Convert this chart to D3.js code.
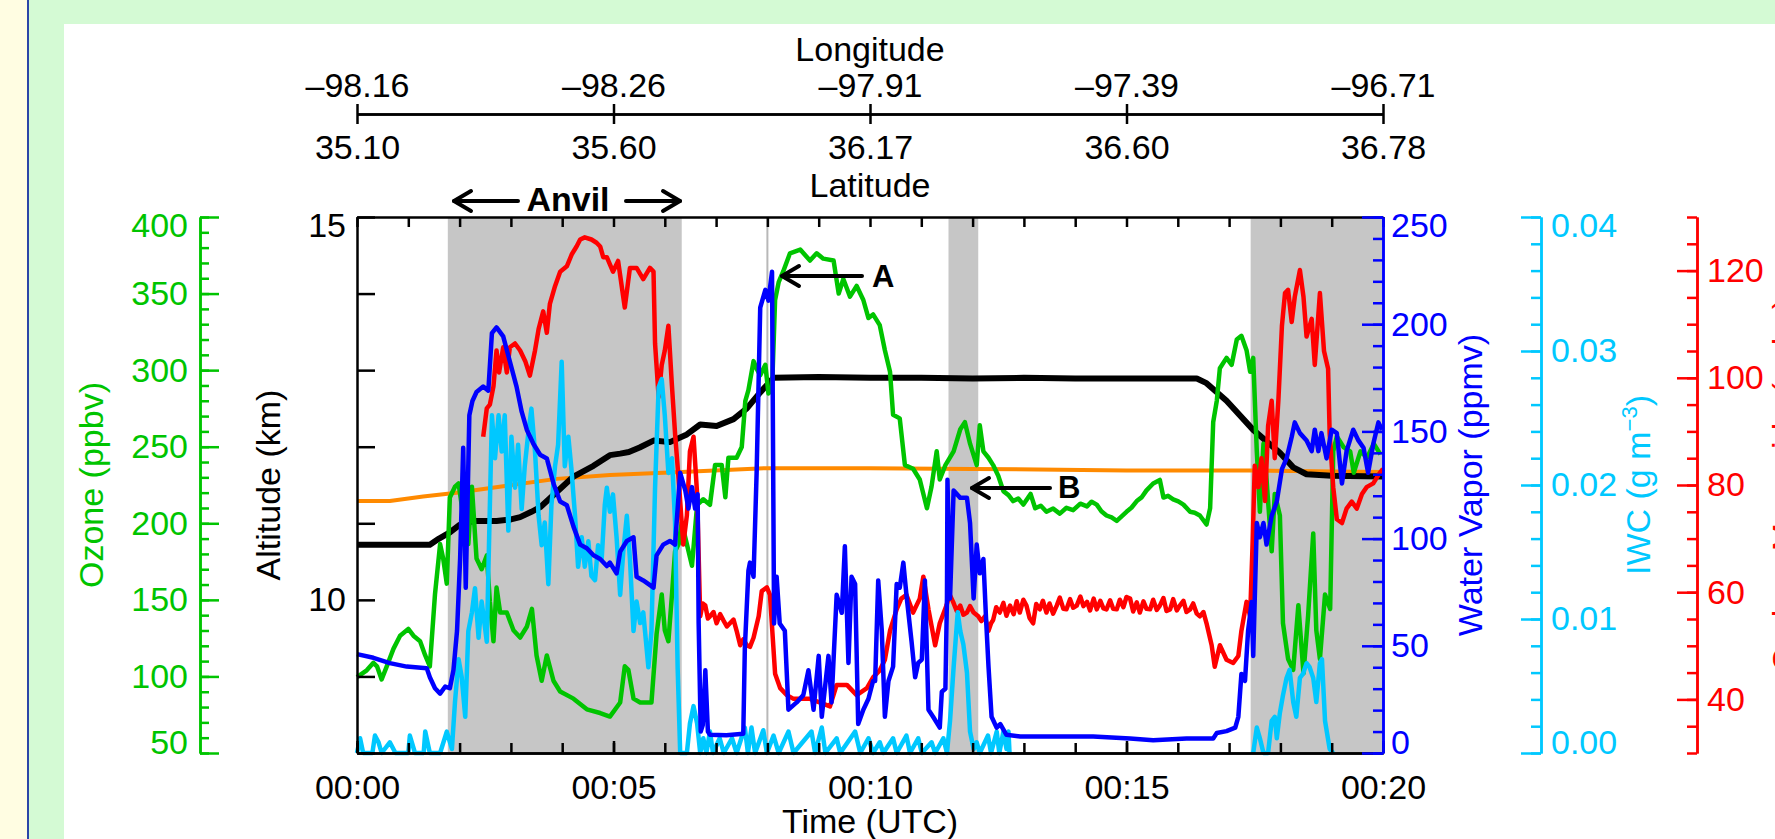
<!DOCTYPE html>
<html><head><meta charset="utf-8">
<script src="https://cdn.jsdelivr.net/npm/d3@7"></script>
<style>body{margin:0;background:#fff}svg{display:block}</style>
</head><body><svg id="c" width="1775" height="839"></svg>
<script>
// ---------------- data (time in minutes after 00:00 UTC) ----------------
const timeLabels = ["00:00","00:05","00:10","00:15","00:20"];
const timeLabelValues = [0,5,10,15,20];
const lonLabels = ["–98.16","–98.26","–97.91","–97.39","–96.71"];
const latLabels = ["35.10","35.60","36.17","36.60","36.78"];
const shadedIntervals = [[1.77,6.33],[11.53,12.11],[17.42,20]];
const markerTimes = [8.0];

const altitude = [[0,10.72],[0.6,10.72],[1.2,10.72],[1.42,10.72],[1.6,10.8],[1.81,10.88],[2.0,10.98],[2.27,11.03],[2.72,11.03],[3.0,11.05],[3.18,11.08],[3.4,11.15],[3.57,11.21],[3.83,11.37],[4.22,11.61],[4.61,11.75],[4.93,11.89],[5.13,11.91],[5.3,11.93],[5.51,11.99],[5.78,12.08],[6.10,12.06],[6.43,12.16],[6.69,12.29],[7.01,12.27],[7.34,12.36],[7.60,12.50],[7.86,12.71],[8.12,12.90],[9,12.91],[10,12.9],[11,12.9],[12,12.89],[13,12.9],[14,12.89],[15,12.89],[16.37,12.89],[16.56,12.83],[16.95,12.6],[17.47,12.22],[17.99,11.92],[18.25,11.73],[18.51,11.64],[19,11.62],[20,11.61]];

const orangeLevel = [[0,11.29],[0.64,11.29],[1.29,11.35],[1.94,11.40],[2.92,11.49],[3.89,11.58],[4.93,11.63],[6.33,11.67],[7.98,11.72],[10,11.72],[12,11.71],[15,11.69],[17.5,11.69],[20,11.67]];

const ozone = [[0,99.6],[0.19,104],[0.32,108.9],[0.39,106.6],[0.48,98],[0.58,106.6],[0.71,118],[0.84,126.6],[1.00,131],[1.10,126.6],[1.23,123],[1.33,113.7],[1.42,106.6],[1.52,153.5],[1.62,186.4],[1.68,177],[1.75,160.6],[1.81,216.8],[1.91,223.9],[1.98,226],[2.07,205],[2.17,186.4],[2.24,223.9],[2.33,177],[2.43,170],[2.53,179],[2.59,148.8],[2.66,122.9],[2.72,158],[2.79,141.8],[2.92,141.8],[3.05,130.1],[3.18,125.4],[3.31,132.4],[3.41,144.1],[3.50,113.7],[3.60,97.2],[3.70,113.7],[3.83,97.2],[3.96,90.2],[4.22,85.5],[4.48,78.5],[4.74,76.1],[4.93,73.8],[5.13,83],[5.22,106.6],[5.29,104.3],[5.39,85.5],[5.52,83],[5.74,83],[5.84,127.7],[5.94,153.5],[6.00,130.1],[6.07,123],[6.14,153.5],[6.20,181.7],[6.27,186.4],[6.33,200.4],[6.43,186.4],[6.53,172.3],[6.63,212],[6.75,215.7],[6.88,212],[6.98,238],[7.11,238],[7.18,217],[7.24,242.8],[7.40,242.8],[7.50,249.8],[7.57,280],[7.63,287],[7.73,305.9],[7.79,301],[7.86,296.6],[7.96,303.5],[8.02,284.8],[8.09,287],[8.15,345.8],[8.22,357.5],[8.31,364.6],[8.44,376.3],[8.64,378.7],[8.83,371.6],[8.96,376.3],[9.09,372.8],[9.29,371.6],[9.39,350],[9.48,359.5],[9.61,348],[9.74,355],[9.87,345.8],[9.97,334],[10.06,336.4],[10.19,329.4],[10.29,313],[10.39,299],[10.45,270.8],[10.58,268.5],[10.68,238],[10.84,235.6],[10.97,228.6],[11.11,209.8],[11.20,224],[11.30,247],[11.36,228.6],[11.47,238],[11.63,247],[11.76,261.4],[11.85,266],[11.95,252],[12.08,238],[12.14,264],[12.21,247],[12.31,242.8],[12.40,238],[12.50,231],[12.60,221],[12.70,218.4],[12.79,214.5],[12.89,216.2],[12.99,212.2],[13.13,219.2],[13.22,209.8],[13.33,211.5],[13.44,207.5],[13.57,209.6],[13.70,206.3],[13.83,210.1],[13.96,208.6],[14.10,212.8],[14.23,211],[14.32,214.1],[14.42,212.2],[14.51,207.9],[14.61,205.1],[14.71,203.8],[14.81,201.6],[15.00,207.5],[15.10,210.3],[15.20,214.5],[15.30,217.1],[15.39,221.5],[15.52,226],[15.65,228.3],[15.72,216.8],[15.81,217.9],[15.91,215.6],[16.01,214.3],[16.11,212.2],[16.24,207.5],[16.33,206.9],[16.43,205.1],[16.56,199.2],[16.63,209.8],[16.69,266],[16.76,280],[16.82,301.3],[16.95,308],[17.05,303.5],[17.15,320],[17.24,322.4],[17.34,313],[17.41,299],[17.47,308],[17.54,247],[17.60,207.5],[17.67,252],[17.73,228.6],[17.83,181.7],[17.89,219.2],[17.99,205.1],[18.05,134.8],[18.15,111.4],[18.25,104.3],[18.35,146.5],[18.45,102],[18.54,139.5],[18.64,193.4],[18.70,130.1],[18.77,111.4],[18.87,153.5],[18.97,144],[19.03,247],[19.10,256.7],[19.23,249.8],[19.36,247],[19.43,233],[19.56,247],[19.69,242.8],[19.82,252],[19.95,245]];

const waterVapor = [[0,46.1],[0.32,44.4],[0.64,41.9],[0.97,40.3],[1.36,39.5],[1.42,35.3],[1.52,30.2],[1.62,27.7],[1.72,31],[1.81,30.2],[1.88,38.6],[1.95,57],[2.01,90.5],[2.07,142.4],[2.12,77.1],[2.19,157.5],[2.25,164.2],[2.33,168.4],[2.46,170.9],[2.56,169],[2.63,195.8],[2.72,198.5],[2.85,194.3],[2.98,182.6],[3.11,170.9],[3.21,159.2],[3.31,150.8],[3.44,144.1],[3.57,139.1],[3.70,137.4],[3.83,125.7],[3.96,117.3],[4.09,115.6],[4.22,105.6],[4.35,97.2],[4.48,95.5],[4.61,92.2],[4.74,90.5],[4.87,87.2],[4.93,88.8],[5.06,83.8],[5.13,93.9],[5.26,98.9],[5.39,100.6],[5.45,82.2],[5.58,80.5],[5.78,77.1],[5.84,92.2],[5.97,97.2],[6.10,98.9],[6.20,97.2],[6.30,130.7],[6.40,122.4],[6.46,114],[6.53,124],[6.59,114],[6.64,120.7],[6.66,60.4],[6.70,10],[6.74,13],[6.79,38.6],[6.84,10],[6.88,8.5],[7.2,8.3],[7.53,9],[7.56,48.7],[7.63,85],[7.66,88.8],[7.73,82.2],[7.79,130.7],[7.86,207.7],[7.96,216],[8.02,211],[8.09,224.5],[8.13,60.4],[8.18,82.2],[8.24,60.4],[8.34,57],[8.41,20.2],[8.57,23.6],[8.70,27],[8.80,38.6],[8.90,20.2],[9.00,45.3],[9.06,16.9],[9.19,45.3],[9.25,23.6],[9.35,73.8],[9.45,65.4],[9.51,96.4],[9.58,42],[9.64,82.2],[9.71,78.8],[9.77,13.5],[9.87,20.2],[9.97,25.3],[10.06,33.6],[10.10,33.6],[10.16,80.5],[10.23,57],[10.29,16.9],[10.36,33.6],[10.45,40.3],[10.52,78.8],[10.58,77.1],[10.65,88.8],[10.71,73.8],[10.81,52],[10.88,35.3],[10.94,42],[11.01,43.6],[11.07,80.5],[11.14,20.2],[11.23,16.9],[11.36,11.8],[11.40,28.6],[11.47,30],[11.50,72],[11.51,127.4],[11.56,72.1],[11.63,122.4],[11.76,119],[11.89,119],[11.95,107.3],[12.02,72.1],[12.08,97.2],[12.14,83.8],[12.21,90.5],[12.26,63.7],[12.31,40.3],[12.37,16.9],[12.47,11.8],[12.54,13.5],[12.66,8.5],[12.93,7.7],[13.70,7.7],[14.35,7.7],[15.07,6.8],[15.52,6],[16.17,6.8],[16.69,6.8],[16.76,9.3],[16.95,10.2],[17.12,11.8],[17.18,16.9],[17.24,36.9],[17.31,33.6],[17.37,57],[17.44,70.4],[17.47,45.3],[17.54,107.3],[17.60,100.6],[17.67,107.3],[17.73,97.2],[17.83,110.6],[17.93,117.3],[18.03,132.4],[18.12,137.4],[18.22,147.4],[18.28,154.2],[18.38,149.2],[18.51,145.8],[18.61,140.8],[18.67,150.8],[18.74,140.8],[18.80,149.2],[18.90,137.4],[19.00,150.8],[19.10,149.2],[19.20,125.7],[19.29,140.8],[19.42,150.8],[19.52,145.8],[19.62,142.4],[19.71,130.7],[19.81,144.1],[19.91,154.2],[19.98,150.8]];

const iwc = [[0,0],[0.06,0.0011],[0.12,0],[0.3,0],[0.35,0.0013],[0.42,0.0008],[0.48,0],[0.64,0.0008],[0.75,0],[1.0,0],[1.03,0.0013],[1.13,0],[1.30,0],[1.33,0.0016],[1.42,0],[1.62,0],[1.75,0.0016],[1.85,0.0003],[1.91,0.0038],[1.98,0.007],[2.04,0.0057],[2.11,0.0027],[2.17,0.0091],[2.24,0.0105],[2.30,0.0123],[2.37,0.0086],[2.43,0.0113],[2.53,0.0083],[2.63,0.0252],[2.69,0.022],[2.76,0.0252],[2.82,0.0225],[2.88,0.0252],[2.95,0.0166],[3.01,0.0236],[3.08,0.0198],[3.14,0.0230],[3.21,0.0182],[3.27,0.0214],[3.34,0.0239],[3.40,0.0257],[3.47,0.0225],[3.54,0.0177],[3.60,0.0155],[3.66,0.0172],[3.73,0.0126],[3.79,0.0185],[3.86,0.0214],[3.92,0.0230],[3.99,0.0292],[4.05,0.0214],[4.12,0.0236],[4.18,0.0212],[4.25,0.0177],[4.31,0.0139],[4.38,0.0161],[4.44,0.0139],[4.51,0.0158],[4.57,0.0132],[4.64,0.0129],[4.70,0.0155],[4.77,0.0145],[4.83,0.0185],[4.87,0.0198],[4.93,0.0180],[4.99,0.0193],[5.06,0.0161],[5.13,0.0118],[5.19,0.0150],[5.26,0.0177],[5.32,0.0145],[5.39,0.0091],[5.45,0.0113],[5.52,0.0097],[5.58,0.0105],[5.68,0.0064],[5.74,0.0091],[5.81,0.0198],[5.88,0.0273],[5.94,0.0279],[6.00,0.0252],[6.07,0.0209],[6.14,0.0220],[6.20,0.0172],[6.25,0.0064],[6.30,0],[6.43,0],[6.49,0.0022],[6.56,0.0035],[6.63,0.0022],[6.69,0],[6.75,0.0011],[6.81,0],[6.88,0.0016],[6.94,0],[7.07,0.0011],[7.15,0],[7.31,0.0011],[7.40,0],[7.56,0.0019],[7.62,0],[7.69,0.0019],[7.76,0],[7.92,0.0017],[7.99,0],[8.12,0.0013],[8.22,0],[8.41,0.0016],[8.51,0],[8.86,0.0016],[8.93,0],[9.06,0.0019],[9.13,0],[9.35,0.0011],[9.42,0],[9.71,0.0016],[9.81,0],[9.97,0.0011],[10.06,0],[10.19,0.0008],[10.26,0],[10.45,0.0011],[10.52,0],[10.71,0.0013],[10.78,0],[10.94,0.0011],[11.01,0],[11.20,0.0008],[11.27,0],[11.43,0.0011],[11.50,0],[11.56,0.0024],[11.63,0.0064],[11.71,0.0105],[11.76,0.0091],[11.82,0.0081],[11.89,0.006],[11.95,0.0016],[12.02,0.0003],[12.08,0.0008],[12.14,0],[12.30,0.0013],[12.36,0],[12.47,0.0016],[12.52,0],[12.60,0.0016],[12.66,0.0003],[12.70,0.0016],[12.72,0],[12.75,null],[17.45,null],[17.47,0],[17.54,0.0019],[17.60,0.0011],[17.67,0],[17.76,0],[17.83,0.0024],[17.89,0.0027],[17.93,0.0011],[17.99,0.0030],[18.05,0.0043],[18.12,0.0056],[18.18,0.0062],[18.25,0.0038],[18.31,0.0027],[18.38,0.0056],[18.44,0.0059],[18.51,0.0067],[18.57,0.0064],[18.64,0.0056],[18.70,0.0038],[18.77,0.0067],[18.81,0.0070],[18.87,0.0024],[18.96,0.0003],[19.03,0]];

const co = [[2.46,89],[2.53,94.3],[2.59,95],[2.66,98.4],[2.72,105.1],[2.77,101],[2.85,105.7],[2.92,101],[2.98,105.7],[3.08,106.4],[3.18,105.1],[3.28,103.1],[3.37,100.4],[3.47,105.1],[3.54,109.1],[3.63,112.4],[3.70,108.4],[3.76,113.8],[3.86,117.1],[3.96,119.8],[4.09,120.8],[4.19,123.1],[4.28,124.5],[4.35,125.8],[4.44,126.2],[4.57,125.8],[4.67,125.2],[4.74,124.5],[4.80,122.5],[4.87,122.5],[4.99,119.8],[5.09,121.8],[5.19,115.1],[5.22,113.1],[5.32,120.5],[5.45,120.5],[5.58,118.4],[5.71,120.5],[5.78,119.8],[5.81,106.4],[5.88,96.4],[5.94,102.4],[6.00,105.1],[6.07,109.7],[6.14,98.4],[6.20,89.6],[6.27,81],[6.36,68.9],[6.43,74.3],[6.49,86.3],[6.56,89],[6.63,78.3],[6.69,55.5],[6.74,57.9],[6.79,57.5],[6.84,55.1],[6.88,55.5],[6.95,56.3],[7.01,54.2],[7.08,55.9],[7.14,54.8],[7.21,53.6],[7.27,54.2],[7.34,54.9],[7.40,52.8],[7.47,50.1],[7.53,51.2],[7.60,50.1],[7.66,49.8],[7.73,51.5],[7.83,55.5],[7.89,60.2],[7.99,60.9],[8.05,59.5],[8.15,44.8],[8.25,42.1],[8.38,40.8],[8.51,40.1],[8.64,40.1],[8.83,40.1],[9.03,39.4],[9.22,38.7],[9.35,42.7],[9.55,42.7],[9.74,40.8],[9.94,42.1],[10.06,44.1],[10.19,45.4],[10.29,47.4],[10.39,52.8],[10.52,56.8],[10.61,58.8],[10.71,59.5],[10.84,56.2],[10.97,58.8],[11.04,62.9],[11.14,56.8],[11.27,50.1],[11.36,54.2],[11.49,57.5],[11.55,59.6],[11.62,58.2],[11.69,56.5],[11.76,57.5],[11.82,55.8],[11.89,56.2],[11.95,57.4],[12.02,56.2],[12.11,55.5],[12.17,54.6],[12.24,55.5],[12.31,52.8],[12.36,54.2],[12.40,54.8],[12.46,57.2],[12.53,56.2],[12.60,58.0],[12.66,55.6],[12.73,57.5],[12.80,55.9],[12.86,58.3],[12.92,56.2],[12.99,58.6],[13.05,57.5],[13.11,55.2],[13.18,54.2],[13.24,57.8],[13.31,56.8],[13.37,58.4],[13.44,56.2],[13.50,57.9],[13.57,56.0],[13.64,57.5],[13.70,59.0],[13.77,56.9],[13.83,56.8],[13.90,58.7],[13.96,57.1],[14.03,57.5],[14.10,59.2],[14.16,57.4],[14.23,58.2],[14.29,56.6],[14.36,58.8],[14.42,56.8],[14.49,58.4],[14.55,57.0],[14.61,56.8],[14.68,58.5],[14.74,56.9],[14.81,56.8],[14.87,58.6],[14.94,57.2],[15.00,59.1],[15.07,58.8],[15.13,56.4],[15.20,58.1],[15.26,56.2],[15.33,58.3],[15.39,56.9],[15.46,56.8],[15.52,58.6],[15.59,56.7],[15.65,57.5],[15.72,58.9],[15.78,56.5],[15.85,56.8],[15.91,58.7],[15.98,56.6],[16.04,57.5],[16.11,58.4],[16.17,56.3],[16.24,56.8],[16.30,57.9],[16.37,56.0],[16.43,55.5],[16.50,56.3],[16.56,54.2],[16.66,50.1],[16.72,46.1],[16.82,50.1],[16.95,47.4],[17.08,46.8],[17.18,48.1],[17.24,52.8],[17.34,58.2],[17.41,55.5],[17.46,69.6],[17.50,83.6],[17.57,79.6],[17.63,85],[17.70,77],[17.76,91],[17.83,95.7],[17.89,85],[17.96,95.7],[18.03,109.7],[18.09,115.8],[18.15,116.4],[18.22,110.4],[18.28,115.1],[18.38,120.1],[18.45,115.1],[18.51,107.7],[18.61,111],[18.67,102.4],[18.77,115.8],[18.85,105],[18.93,101.7],[18.96,89.6],[19.03,79.6],[19.10,73.6],[19.20,72.9],[19.29,75.6],[19.39,76.9],[19.49,75.6],[19.59,78.3],[19.68,79.6],[19.81,80.3],[19.94,82.3],[20.0,83]];

// ---------------- layout ----------------
const FONT = '"Liberation Sans", Arial, Helvetica, sans-serif';
const FS = 34;
const L = 357, R = 1383, T = 217, B = 753;
const GREEN = "#00c400", BLUE = "#0000ff", CYAN = "#00c8ff", RED = "#ff0000", ORANGE = "#ff8a00";

const svg = d3.select("#c").attr("font-family", FONT);

// page background frame
svg.append("rect").attr("x",0).attr("y",0).attr("width",1775).attr("height",839).attr("fill","#d4fad4");
svg.append("rect").attr("x",0).attr("y",0).attr("width",27).attr("height",839).attr("fill","#fffde2");
svg.append("rect").attr("x",27).attr("y",0).attr("width",2).attr("height",839).attr("fill","#2b45a8");
svg.append("rect").attr("x",64).attr("y",24).attr("width",1711).attr("height",815).attr("fill","#ffffff");

// scales
const x = d3.scaleLinear().domain([0,20]).range([L,R]);
const yAlt = d3.scaleLinear().domain([8,15]).range([B,T]);
const yO3 = d3.scaleLinear().domain([50,400]).range([B,T]);
const yWV = d3.scaleLinear().domain([0,250]).range([B,T]);
const yIWC = d3.scaleLinear().domain([0,0.04]).range([B,T]);
const yCO = d3.scaleLinear().domain([30,130]).range([B,T]);

// shaded regions
svg.append("g").selectAll("rect").data(shadedIntervals).join("rect")
  .attr("x", d => x(d[0])).attr("width", d => x(d[1]) - x(d[0]))
  .attr("y", T).attr("height", B - T).attr("fill", "#c6c6c6");
svg.append("g").selectAll("line").data(markerTimes).join("line")
  .attr("x1", d => x(d)).attr("x2", d => x(d)).attr("y1", T).attr("y2", B)
  .attr("stroke", "#b8b8b8").attr("stroke-width", 2);

// data lines
function drawLine(data, ys, color, w) {
  const line = d3.line().defined(d => d[1] != null).x(d => x(d[0])).y(d => ys(d[1]));
  svg.append("path").datum(data).attr("d", line).attr("fill","none")
    .attr("stroke", color).attr("stroke-width", w)
    .attr("stroke-linejoin","round").attr("stroke-linecap","butt");
}
drawLine(orangeLevel, yAlt, ORANGE, 4);
drawLine(altitude, yAlt, "#000", 6);
drawLine(ozone, yO3, GREEN, 4.5);
drawLine(co, yCO, RED, 4.5);
drawLine(iwc, yIWC, CYAN, 4.5);
drawLine(waterVapor, yWV, BLUE, 4.5);

// axis helpers
function styleAxis(g, color) {
  g.attr("font-family", FONT).attr("font-size", FS);
  g.selectAll("path").attr("stroke", color).attr("stroke-width", 2.5);
  g.selectAll("line").attr("stroke", color).attr("stroke-width", 2.5);
  g.selectAll("text").attr("fill", color);
}
function clampEnds(g, scale) {
  const [d0, d1] = scale.domain();
  g.selectAll(".tick text").each(function(d) {
    if (Math.abs(d - d1) < 1e-9) d3.select(this).attr("y", 9);
    if (Math.abs(d - d0) < 1e-9) d3.select(this).attr("y", -10);
  });
}
function vAxis(scale, xpos, orient, major, minor, fmt, color, majLen, minLen, pad) {
  const mk = orient === "left" ? d3.axisLeft : d3.axisRight;
  if (minor) {
    const gm = svg.append("g").attr("transform", `translate(${xpos},0)`)
      .call(mk(scale).tickValues(minor).tickSizeInner(-minLen).tickSizeOuter(0).tickFormat(""));
    styleAxis(gm, color);
  }
  const g = svg.append("g").attr("transform", `translate(${xpos},0)`)
    .call(mk(scale).tickValues(major).tickSizeInner(-majLen).tickSizeOuter(0).tickPadding(pad).tickFormat(fmt));
  styleAxis(g, color);
  clampEnds(g, scale);
  return g;
}

// time axes of the plot box
const minuteTicks = d3.range(0, 21, 1);
const gTop = svg.append("g").attr("transform", `translate(0,${T})`)
  .call(d3.axisTop(x).tickValues(minuteTicks).tickSizeInner(-10).tickSizeOuter(0).tickFormat(""));
styleAxis(gTop, "#000");
const gBotMinor = svg.append("g").attr("transform", `translate(0,${B})`)
  .call(d3.axisBottom(x).tickValues(minuteTicks).tickSizeInner(-10).tickSizeOuter(0).tickFormat(""));
styleAxis(gBotMinor, "#000");
const gBot = svg.append("g").attr("transform", `translate(0,${B})`)
  .call(d3.axisBottom(x).tickValues(timeLabelValues).tickSizeInner(-12).tickSizeOuter(0).tickPadding(22)
    .tickFormat((d,i) => timeLabels[i]));
styleAxis(gBot, "#000");

// altitude axis (left of plot)
vAxis(yAlt, L, "left", d3.range(8, 16, 1), null, d => (d === 10 || d === 15) ? String(d) : "", "#000", 18, 0, 11);

// ozone axis
vAxis(yO3, 200, "left", d3.range(50, 401, 50), d3.range(50, 401, 10), d => String(d), GREEN, 19, 9, 12);

// water vapour axis (right edge of plot)
vAxis(yWV, R, "right", d3.range(0, 251, 50), d3.range(0, 251, 10), d => String(d), BLUE, 21, 10, 8);

// IWC axis
vAxis(yIWC, 1541, "right", [0,0.01,0.02,0.03,0.04], d3.range(0, 21, 1).map(v => v * 0.002), d3.format(".2f"), CYAN, 20, 10, 10);

// CO axis
vAxis(yCO, 1697, "right", [40,60,80,100,120], d3.range(30, 131, 5), d => String(d), RED, 20, 10, 10);

// longitude / latitude axis
const LY = 114;
const gLon = svg.append("g").attr("transform", `translate(0,${LY})`)
  .call(d3.axisTop(x).tickValues(timeLabelValues).tickSizeInner(10).tickSizeOuter(0).tickPadding(7)
    .tickFormat((d,i) => lonLabels[i]));
styleAxis(gLon, "#000");
const gLat = svg.append("g").attr("transform", `translate(0,${LY})`)
  .call(d3.axisBottom(x).tickValues(timeLabelValues).tickSizeInner(10).tickSizeOuter(0).tickPadding(11)
    .tickFormat((d,i) => latLabels[i]));
styleAxis(gLat, "#000");

// titles
function txt(s, tx, ty, color, opts = {}) {
  const t = svg.append("text").attr("transform", `translate(${tx},${ty})` + (opts.rot ? " rotate(-90)" : ""))
    .attr("text-anchor", opts.anchor || "middle").attr("fill", color)
    .attr("font-size", opts.size || FS).attr("font-weight", opts.bold ? "bold" : "normal").text(s);
  return t;
}
const MID = (T + B) / 2;
txt("Longitude", x(10), 61, "#000");
txt("Latitude", x(10), 197, "#000");
txt("Time (UTC)", x(10), 833, "#000");
txt("Ozone (ppbv)", 103, MID, GREEN, {rot:true});
txt("Altitude (km)", 280, MID, "#000", {rot:true});
txt("Water Vapor (ppmv)", 1482, MID, BLUE, {rot:true});
const iw = svg.append("text").attr("transform", `translate(1650,${MID}) rotate(-90)`)
  .attr("text-anchor","middle").attr("fill", CYAN).attr("font-size", FS);
iw.append("tspan").text("IWC (g m");
iw.append("tspan").attr("dy", -13).attr("font-size", 22).text("−3");
iw.append("tspan").attr("dy", 13).text(")");
txt("Carbon Monoxide (ppbv)", 1796, MID, RED, {rot:true});

// annotations
function arrow(x1, y1, x2, y2) { // tail -> tip
  const g = svg.append("g").attr("stroke","#000").attr("stroke-width",4).attr("fill","none")
    .attr("stroke-linecap","round").attr("stroke-linejoin","round");
  g.append("line").attr("x1",x1).attr("y1",y1).attr("x2",x2).attr("y2",y2);
  const dir = Math.sign(x2 - x1);
  g.append("path").attr("d", `M${x2 - dir*17},${y2 - 10} L${x2},${y2} L${x2 - dir*17},${y2 + 10}`);
}
arrow(518, 201, 454, 201);
arrow(626, 201, 680, 201);
txt("Anvil", 568, 211, "#000", {bold:true});
arrow(862, 276, 782, 276);
txt("A", 872, 287, "#000", {bold:true, anchor:"start", size:31});
arrow(1050, 488, 972, 488);
txt("B", 1058, 498, "#000", {bold:true, anchor:"start", size:31});
</script></body></html>
